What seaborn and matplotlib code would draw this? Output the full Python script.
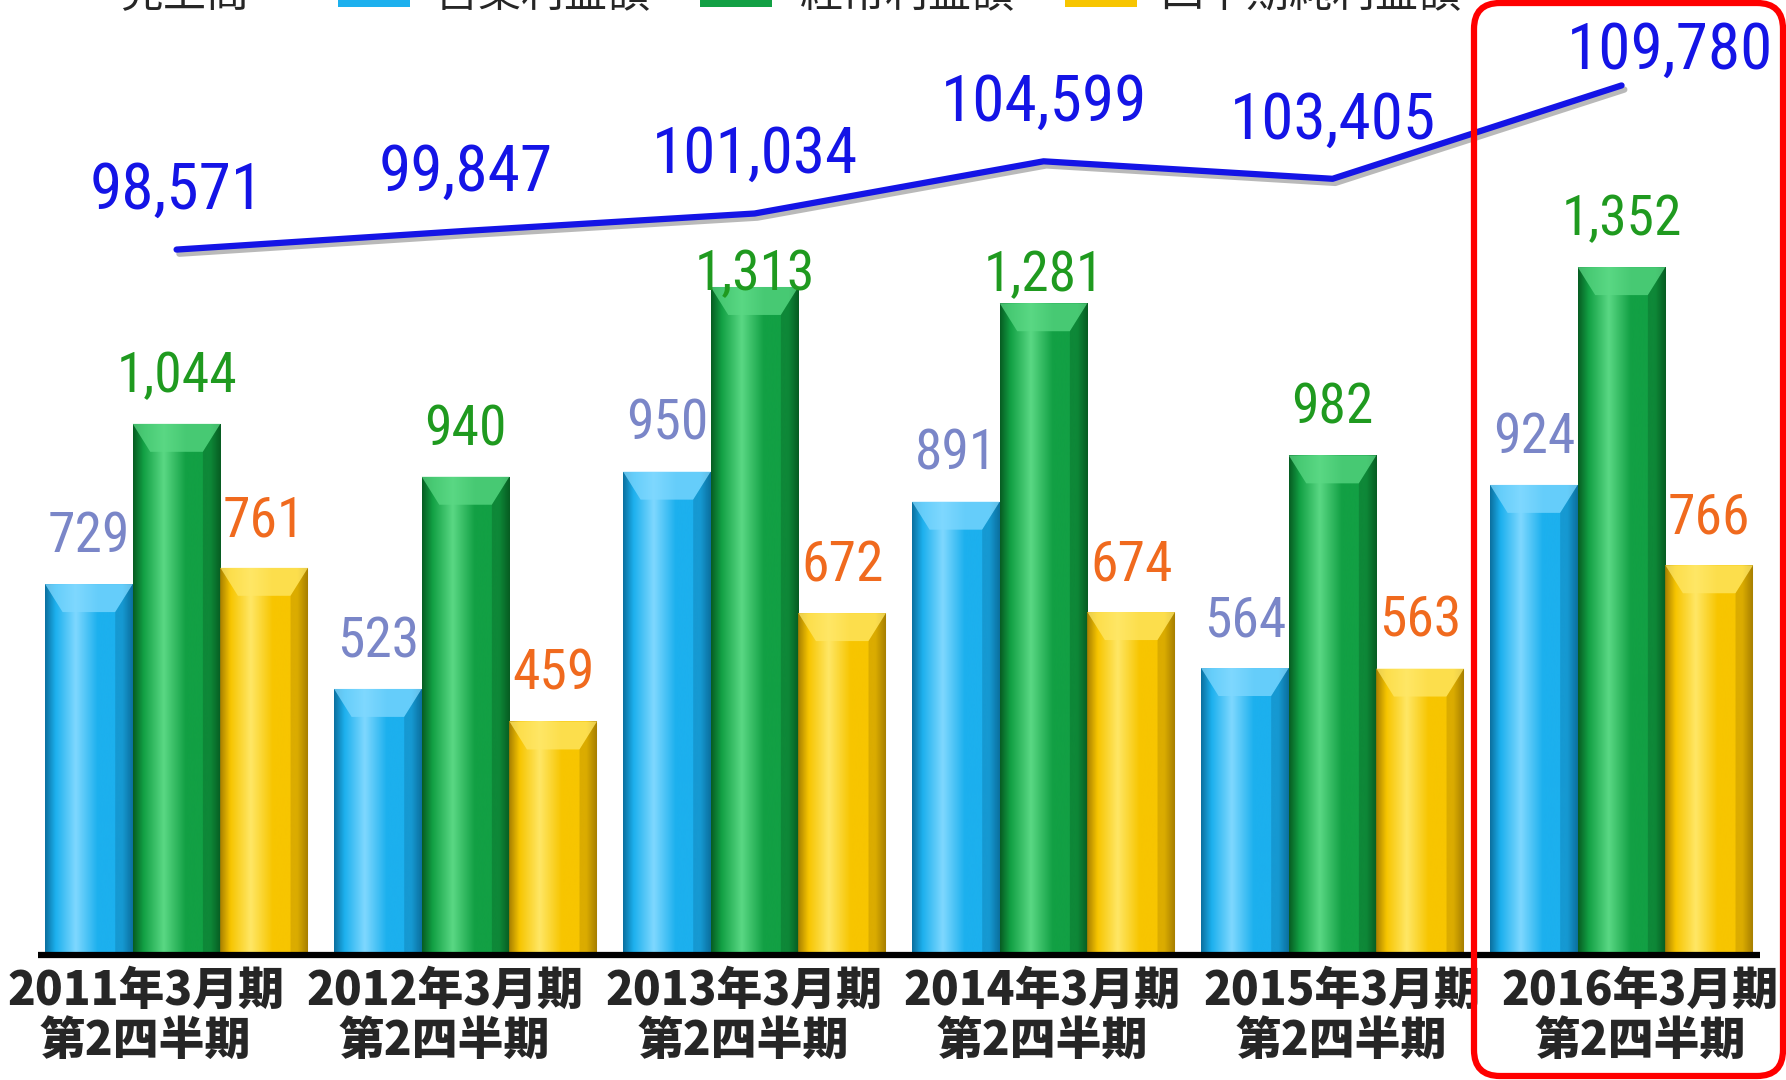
import numpy as np
import pandas as pd
import matplotlib
matplotlib.use("Agg")
import matplotlib.pyplot as plt
import seaborn as sns
from matplotlib.patches import Polygon, FancyBboxPatch, Rectangle
from matplotlib.colors import LinearSegmentedColormap
from matplotlib.transforms import IdentityTransform, ScaledTranslation
import matplotlib.patheffects as pe
from matplotlib import font_manager as fm

# ---------------- data ----------------
periods = ["2011年3月期\n第2四半期", "2012年3月期\n第2四半期", "2013年3月期\n第2四半期",
           "2014年3月期\n第2四半期", "2015年3月期\n第2四半期", "2016年3月期\n第2四半期"]
sales = [98571, 99847, 101034, 104599, 103405, 109780]
operating_profit = [729, 523, 950, 891, 564, 924]
ordinary_profit = [1044, 940, 1313, 1281, 982, 1352]
net_profit = [761, 459, 672, 674, 563, 766]
series_names = ["営業利益額", "経常利益額", "四半期純利益額"]
sales_name = "売上高"

bar_colors = ["#1cb0ee", "#12a044", "#f7c500"]
bar_dark = ["#0b6f9e", "#075c22", "#a77f00"]
bar_light = ["#7fd8ff", "#5ad884", "#ffe766"]
label_colors = ["#7a86c8", "#1f9a1f", "#f06a1e"]
line_color = "#1414e6"

df = pd.DataFrame({
    "period": periods * 3,
    "series": [series_names[0]] * 6 + [series_names[1]] * 6 + [series_names[2]] * 6,
    "value": operating_profit + ordinary_profit + net_profit,
})

sns.set_theme(style="white")
plt.rcParams["font.family"] = ["Noto Sans CJK JP", "DejaVu Sans"]

names = {f.name for f in fm.fontManager.ttflist}
condensed = [n for n in ["Liberation Sans Narrow", "Roboto Condensed", "Open Sans Condensed",
                         "DejaVu Sans Condensed"] if n in names]
num_font = (condensed + ["Liberation Sans", "DejaVu Sans"])
narrow = bool(condensed)
line_fs = 47 if narrow else 43
bar_fs = 40 if narrow else 37

W, H = 1786, 1080
fig = plt.figure(figsize=(W / 100, H / 100), dpi=100)
fig.patch.set_facecolor("white")
base_px = 955
ax = fig.add_axes([0, (H - base_px) / H, 1, base_px / H])

sns.barplot(data=df, x="period", y="value", hue="series", order=periods,
            hue_order=series_names, palette=bar_colors, saturation=1,
            width=0.91, dodge=True, legend=False, ax=ax, edgecolor="none")

xlim = (-0.611, 5.569)
ylim = (0, 1877)
for si, cont in enumerate(ax.containers):
    cmap = LinearSegmentedColormap.from_list(
        "g", [(0.0, bar_dark[si]), (0.12, bar_colors[si]), (0.35, bar_light[si]),
              (0.6, bar_colors[si]), (0.88, bar_colors[si]), (1.0, bar_dark[si])])
    grad = np.linspace(0, 1, 256).reshape(1, -1)
    for bar in cont:
        x0, w, h = bar.get_x(), bar.get_width(), bar.get_height()
        im = ax.imshow(grad, extent=[x0, x0 + w, 0, h], aspect="auto", cmap=cmap,
                       zorder=bar.get_zorder() + 0.1, interpolation="bicubic")
        im.set_clip_path(bar)
        e = 55
        d = w * 0.2
        ax.add_patch(Polygon([(x0, h), (x0 + w, h), (x0 + w - d, h - e), (x0 + d, h - e)],
                             closed=True, facecolor=bar_light[si], edgecolor="none",
                             alpha=0.75, zorder=bar.get_zorder() + 0.2))
        ax.add_patch(Polygon([(x0 + w, h), (x0 + w - d, h - e), (x0 + w - d, 0), (x0 + w, 0)],
                             closed=True, facecolor=bar_dark[si], edgecolor="none",
                             alpha=0.35, zorder=bar.get_zorder() + 0.2))

# value labels (two labels sit lower to make room for the sales line)
values_by_series = [operating_profit, ordinary_profit, net_profit]
label_offsets = {(1, 2): 9, (1, 3): 20}
for si, cont in enumerate(ax.containers):
    for j, (bar, v) in enumerate(zip(cont, values_by_series[si])):
        ax.annotate(f"{v:,}", (bar.get_x() + bar.get_width() / 2, v),
                    xytext=(0, label_offsets.get((si, j), 34)), textcoords="offset points",
                    ha="center", va="center",
                    fontsize=bar_fs, color=label_colors[si], family=num_font, zorder=5)

ax.hlines(0, -0.48, 5.48, color="black", lw=4.5, zorder=6, clip_on=False)

ax.set_xlim(*xlim)
ax.set_ylim(*ylim)
ax.set_xticks(range(len(periods)))
ax.set_xticklabels(periods, fontsize=33, fontweight="black", linespacing=1.08)
ax.tick_params(axis="x", length=0, pad=9)
for i, lbl in enumerate(ax.get_xticklabels()):
    dx = (-31 + 10 * i) / 100.0
    lbl.set_transform(lbl.get_transform() + ScaledTranslation(dx, 0, fig.dpi_scale_trans))
ax.set_yticks([])
ax.set_xlabel("")
ax.set_ylabel("")
for s in ax.spines.values():
    s.set_visible(False)

ax2 = ax.twinx()
sns.lineplot(x=np.arange(len(sales)), y=sales, ax=ax2, color=line_color, lw=4.5,
             zorder=7, path_effects=[pe.SimpleLineShadow(offset=(2, -3), alpha=0.3), pe.Normal()])
ax2.set_ylim(50400, 115614)
ax2.set_xlim(*xlim)
ax2.set_yticks([])
ax2.set_ylabel("")
for s in ax2.spines.values():
    s.set_visible(False)
for i, v in enumerate(sales):
    off = (0, 42) if i < len(sales) - 1 else (35, 25)
    ax2.annotate(f"{v:,}", (i, v), xytext=off, textcoords="offset points",
                 ha="center", va="center", fontsize=line_fs, color=line_color,
                 family=num_font, zorder=8)

fig.patches.append(FancyBboxPatch((1474, 4), 309, 1073,
                                  boxstyle="round,pad=0,rounding_size=26",
                                  transform=IdentityTransform(), fill=False,
                                  edgecolor="#ff0000", lw=4.5, zorder=10))

tr = IdentityTransform()
leg_y = H - 7
fig.text(120, leg_y, sales_name, transform=tr, fontsize=31, ha="left", va="baseline")
box_x = [338, 700, 1065]
text_x = [435, 800, 1160]
for bx, tx, c, name in zip(box_x, text_x, bar_colors, series_names):
    fig.patches.append(Rectangle((bx, H - 7), 72, 40, transform=tr,
                                 facecolor=c, edgecolor="none"))
    fig.text(tx, leg_y, name, transform=tr, fontsize=31, ha="left", va="baseline")

fig.savefig("out.png", dpi=100, facecolor="white")
